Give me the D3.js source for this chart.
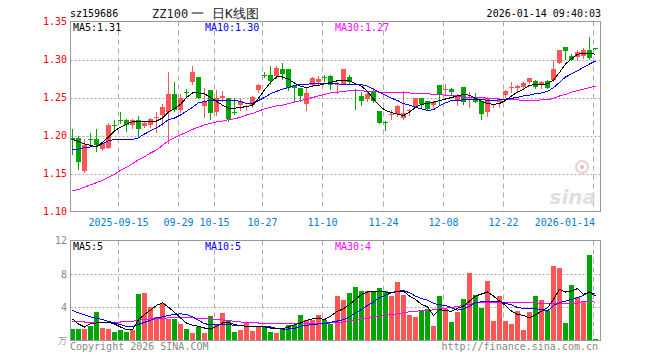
<!DOCTYPE html>
<html>
<head>
<meta charset="utf-8">
<script src="https://cdn.jsdelivr.net/npm/d3@7"></script>
<style>
  body { margin: 0; background: #fff; }
  svg text { font-family: "DejaVu Sans Mono", monospace; font-size: 10px; }
</style>
</head>
<body>
<div id="vis"></div>
<script>
// daily K bars, 88 trading days ending 2026-01-14
var open = [1.197,1.197,1.153,1.196,1.195,1.182,1.184,1.214,1.220,1.221,
  1.214,1.221,1.213,1.214,1.223,1.227,1.231,1.254,1.234,1.257,
  1.270,1.277,1.239,1.260,1.231,1.249,1.249,1.231,1.240,1.238,
  1.240,1.260,1.280,1.279,1.278,1.287,1.287,1.266,1.262,1.242,
  1.266,1.270,1.277,1.278,1.266,1.268,1.277,1.260,1.252,1.248,
  1.259,1.232,1.218,1.227,1.228,1.223,1.233,1.239,1.250,1.245,
  1.240,1.267,1.260,1.261,1.247,1.264,1.250,1.250,1.245,1.231,
  1.240,1.244,1.253,1.263,1.262,1.264,1.270,1.272,1.266,1.272,
  1.273,1.295,1.317,1.304,1.303,1.305,1.312,1.315];
var high = [1.208,1.199,1.195,1.203,1.208,1.192,1.216,1.221,1.231,1.222,
  1.222,1.226,1.219,1.223,1.231,1.242,1.283,1.270,1.255,1.261,
  1.291,1.277,1.262,1.260,1.260,1.259,1.249,1.250,1.250,1.240,
  1.252,1.268,1.284,1.291,1.291,1.295,1.287,1.266,1.262,1.264,
  1.277,1.278,1.279,1.279,1.270,1.287,1.279,1.261,1.257,1.257,
  1.262,1.232,1.219,1.233,1.240,1.259,1.235,1.250,1.250,1.246,
  1.245,1.267,1.268,1.263,1.254,1.264,1.257,1.256,1.245,1.251,
  1.242,1.248,1.260,1.270,1.266,1.270,1.276,1.273,1.272,1.273,
  1.299,1.313,1.317,1.307,1.313,1.315,1.329,1.315];
var low = [1.176,1.156,1.152,1.186,1.180,1.181,1.183,1.208,1.216,1.206,
  1.210,1.200,1.211,1.211,1.205,1.214,1.190,1.232,1.231,1.252,
  1.268,1.250,1.225,1.222,1.227,1.246,1.219,1.228,1.234,1.233,
  1.238,1.257,1.277,1.268,1.276,1.274,1.260,1.246,1.246,1.233,
  1.265,1.268,1.272,1.261,1.256,1.268,1.268,1.235,1.240,1.246,
  1.244,1.216,1.207,1.222,1.226,1.222,1.227,1.238,1.236,1.235,
  1.237,1.242,1.255,1.254,1.240,1.242,1.237,1.244,1.222,1.226,
  1.238,1.238,1.251,1.257,1.257,1.262,1.269,1.262,1.262,1.262,
  1.272,1.295,1.301,1.299,1.300,1.302,1.301,1.314];
var close = [1.194,1.165,1.187,1.195,1.187,1.190,1.214,1.213,1.219,1.214,
  1.221,1.208,1.217,1.222,1.224,1.237,1.254,1.234,1.249,1.256,
  1.284,1.250,1.246,1.230,1.249,1.252,1.222,1.230,1.246,1.239,
  1.251,1.267,1.279,1.272,1.289,1.281,1.263,1.262,1.252,1.256,
  1.276,1.275,1.276,1.266,1.268,1.287,1.270,1.259,1.246,1.255,
  1.246,1.217,1.217,1.228,1.239,1.230,1.234,1.249,1.242,1.235,
  1.244,1.255,1.261,1.257,1.253,1.244,1.251,1.244,1.228,1.249,
  1.241,1.248,1.259,1.264,1.265,1.269,1.276,1.264,1.270,1.263,
  1.288,1.312,1.311,1.300,1.310,1.312,1.302,1.314];

// volume, in 万
var volume = [1.42,1.34,1.42,1.74,3.48,1.54,1.42,1.05,1.30,1.05,
  1.21,5.54,5.66,4.08,2.87,4.45,2.63,2.63,2.02,1.42,
  0.93,1.66,0.93,2.99,2.02,3.36,2.39,1.05,1.30,2.11,
  1.18,1.78,1.62,1.05,0.93,1.38,1.90,1.90,3.12,2.51,
  2.51,3.12,2.51,1.98,5.30,4.81,5.66,6.39,5.90,5.90,
  5.90,6.27,5.90,5.30,6.99,5.42,3.12,2.87,3.52,3.84,
  1.78,5.30,3.84,2.27,3.48,4.93,8.08,5.42,3.96,7.11,
  2.39,5.30,2.39,2.02,3.60,1.30,3.48,5.30,4.81,3.60,
  8.93,8.69,2.15,6.63,5.18,4.69,10.27,0.21];

// price moving averages
var ma5 = [1.195,1.192,1.189,1.187,1.185,1.191,1.198,1.206,1.211,1.215,
  1.218,1.219,1.219,1.219,1.219,1.223,1.231,1.235,1.241,1.250,
  1.256,1.256,1.255,1.250,1.245,1.240,1.236,1.236,1.237,1.238,
  1.240,1.249,1.260,1.270,1.277,1.277,1.274,1.269,1.265,1.263,
  1.265,1.266,1.268,1.270,1.272,1.273,1.272,1.268,1.265,1.258,
  1.248,1.239,1.233,1.230,1.228,1.226,1.231,1.237,1.241,1.242,
  1.244,1.246,1.248,1.250,1.252,1.254,1.253,1.249,1.245,1.242,
  1.241,1.242,1.246,1.252,1.257,1.261,1.266,1.267,1.267,1.268,
  1.273,1.283,1.294,1.301,1.307,1.308,1.308,1.307];
var ma10 = [1.181,1.182,1.184,1.185,1.186,1.189,1.193,1.195,1.195,1.195,
  1.195,1.197,1.202,1.206,1.210,1.215,1.221,1.223,1.227,1.232,
  1.237,1.243,1.245,1.246,1.246,1.246,1.246,1.246,1.245,1.242,
  1.242,1.246,1.250,1.255,1.258,1.261,1.263,1.266,1.267,1.267,
  1.269,1.269,1.269,1.269,1.268,1.267,1.267,1.267,1.267,1.265,
  1.261,1.257,1.253,1.249,1.246,1.242,1.240,1.237,1.235,1.233,
  1.234,1.239,1.243,1.246,1.246,1.247,1.248,1.248,1.248,1.246,
  1.246,1.247,1.248,1.249,1.250,1.252,1.253,1.255,1.256,1.258,
  1.263,1.270,1.277,1.281,1.285,1.290,1.294,1.298];
var ma30 = [1.127,1.129,1.132,1.135,1.138,1.141,1.145,1.149,1.154,1.158,
  1.163,1.168,1.172,1.177,1.181,1.187,1.193,1.197,1.201,1.204,
  1.208,1.211,1.214,1.216,1.218,1.219,1.221,1.222,1.224,1.227,
  1.229,1.232,1.235,1.237,1.239,1.240,1.242,1.244,1.246,1.248,
  1.250,1.252,1.254,1.256,1.257,1.258,1.259,1.259,1.259,1.258,
  1.258,1.257,1.256,1.256,1.256,1.256,1.256,1.255,1.255,1.255,
  1.254,1.254,1.253,1.252,1.252,1.251,1.250,1.250,1.250,1.249,
  1.249,1.248,1.248,1.247,1.247,1.246,1.246,1.246,1.247,1.247,
  1.249,1.252,1.254,1.257,1.259,1.261,1.263,1.265];

// volume moving averages
var vma5 = [2.59,1.98,1.62,2.02,2.10,2.18,2.18,1.98,1.62,1.30,
  1.30,2.51,3.12,3.64,4.21,4.53,4.00,3.39,2.71,2.10,
  1.82,1.70,1.50,1.38,1.70,2.10,2.18,1.90,1.78,1.70,
  1.70,1.66,1.62,1.50,1.38,1.42,1.62,1.90,2.10,2.42,
  2.59,2.71,2.51,2.91,3.52,3.80,4.33,4.93,5.54,5.82,
  5.90,5.94,5.82,5.74,5.86,5.94,5.33,4.93,4.33,4.04,
  3.00,3.72,3.56,3.52,3.88,4.12,4.73,5.33,5.58,5.82,
  5.33,4.73,4.21,3.52,3.12,3.00,2.71,3.08,3.52,3.92,
  4.93,6.15,5.82,5.94,6.23,5.54,5.82,5.33];
var vma10 = [3.60,3.32,3.08,2.83,2.67,2.51,2.30,2.10,1.90,1.70,
  1.62,1.94,2.18,2.42,2.71,2.83,3.00,3.12,3.20,3.12,
  2.83,2.42,2.02,1.90,1.90,1.90,1.90,1.82,1.78,1.70,
  1.70,1.70,1.70,1.62,1.46,1.38,1.38,1.46,1.70,1.82,
  1.90,1.98,2.02,2.18,2.34,2.51,2.83,3.32,3.72,4.21,
  4.61,5.14,5.42,5.74,5.90,5.98,5.74,5.33,5.02,4.85,
  4.45,4.29,4.21,3.92,3.64,3.80,4.12,4.53,4.65,4.73,
  4.73,4.73,4.45,4.29,3.96,3.84,3.80,3.80,3.72,3.52,
  4.21,4.53,4.73,4.93,5.14,5.42,5.82,5.54];
var vma30 = [2.30,2.26,2.22,2.22,2.22,2.22,2.22,2.22,2.22,2.26,
  2.30,2.42,2.51,2.59,2.63,2.67,2.71,2.71,2.71,2.71,
  2.71,2.67,2.63,2.59,2.51,2.46,2.38,2.30,2.22,2.18,
  2.14,2.10,2.10,2.10,2.10,2.10,2.10,2.10,2.10,2.10,
  2.10,2.06,2.06,2.10,2.14,2.22,2.34,2.42,2.55,2.67,
  2.79,2.91,3.04,3.12,3.20,3.32,3.44,3.52,3.56,3.60,
  3.68,3.80,3.88,3.96,4.08,4.21,4.33,4.45,4.57,4.61,
  4.61,4.61,4.61,4.61,4.57,4.53,4.53,4.49,4.45,4.45,
  4.45,4.45,4.45,4.45,4.49,4.69,4.65,4.61];

var tickIdx = [8, 18, 24, 32, 42, 52, 62, 72, 87];
var tickLabels = ["2025-09-15", "09-29", "10-15", "10-27", "11-10", "11-24", "12-08", "12-22", "2026-01-14"];
var priceTicks = [1.35, 1.30, 1.25, 1.20, 1.15, 1.10];
var priceGrid = [1.30, 1.25, 1.20, 1.15];
var volTicks = [12, 8, 4];
var volGrid = [8, 4];

var RED = "#ff5555", GREEN = "#00a600", GRID = "#aaaaaa", FRAME = "#999999";

var svg = d3.select("#vis").append("svg")
  .attr("width", 660)
  .attr("height", 360);

// panel edges
var left = 70.5, right = 600.5;
var pTop = 21.5, pBot = 211.5, vTop = 240.5, vBot = 340.5;

var idx = d3.range(close.length);
var x = d3.scaleBand().domain(idx).range([69, 599]);
var y = d3.scaleLinear().domain([1.10, 1.35]).range([pBot, pTop]);
var yv = d3.scaleLinear().domain([0, 12]).range([vBot, vTop]);

function bodyX(i) { return Math.round(x(i) + x.bandwidth() / 2 - 2.5); }
function mid(i) { return bodyX(i) + 2.5; }
function isUp(i) { return close[i] >= open[i]; }

// header
svg.append("text").attr("x", 70).attr("y", 17).attr("fill", "#000").text("sz159686");
var title = svg.append("g").attr("fill", "#222")
  .style("font-family", "'Noto Sans CJK SC', sans-serif");
title.append("text").attr("x", 152).attr("y", 18).style("font-size", "12px").text("ZZ100");
title.append("text").attr("x", 197).attr("y", 18).attr("text-anchor", "middle").style("font-size", "13px").text("一");
title.append("text").attr("x", 212).attr("y", 18).style("font-size", "13px").text("日K线图");
svg.append("text").attr("x", 601).attr("y", 17).attr("text-anchor", "end").attr("fill", "#000")
  .text("2026-01-14 09:40:03");

// horizontal dotted grid
svg.append("g").selectAll("line").data(priceGrid).enter().append("line")
  .attr("x1", left).attr("x2", right)
  .attr("y1", function(d) { return Math.round(y(d)) + 0.5; })
  .attr("y2", function(d) { return Math.round(y(d)) + 0.5; })
  .attr("stroke", GRID).attr("stroke-dasharray", "2,2");
svg.append("g").selectAll("line").data(volGrid).enter().append("line")
  .attr("x1", left).attr("x2", right)
  .attr("y1", function(d) { return Math.round(yv(d)) + 0.5; })
  .attr("y2", function(d) { return Math.round(yv(d)) + 0.5; })
  .attr("stroke", GRID).attr("stroke-dasharray", "2,2");

// vertical dashed grid at the date ticks, both panels
[[pTop, pBot], [vTop, vBot]].forEach(function(span) {
  svg.append("g").selectAll("line").data(tickIdx).enter().append("line")
    .attr("x1", function(i) { return bodyX(i) + 0.5; })
    .attr("x2", function(i) { return bodyX(i) + 0.5; })
    .attr("y1", span[0]).attr("y2", span[1])
    .attr("stroke", GRID).attr("stroke-dasharray", "5,4");
});

// sina watermark
var wm = svg.append("g").attr("opacity", 0.9);
wm.append("circle").attr("cx", 582).attr("cy", 167).attr("r", 6)
  .attr("fill", "none").attr("stroke", "#f0c8c8").attr("stroke-width", 2);
wm.append("circle").attr("cx", 582).attr("cy", 167).attr("r", 2).attr("fill", "#e8b0b0");
wm.append("text").attr("x", 596).attr("y", 204).attr("text-anchor", "end")
  .style("font-family", "'DejaVu Sans', sans-serif").style("font-size", "20px")
  .style("font-style", "italic").style("font-weight", "bold")
  .attr("fill", "#dcdcdc").text("sina");

// candles
var candle = svg.append("g").selectAll("g").data(idx).enter().append("g");
candle.append("line")
  .attr("x1", mid).attr("x2", mid)
  .attr("y1", function(i) { return Math.round(y(high[i])); })
  .attr("y2", function(i) { return Math.round(y(low[i])) + 1; })
  .attr("stroke", function(i) { return isUp(i) ? RED : GREEN; });
candle.append("rect")
  .attr("x", bodyX)
  .attr("y", function(i) { return Math.round(y(Math.max(open[i], close[i]))); })
  .attr("width", 5)
  .attr("height", function(i) {
    var h = Math.round(y(Math.min(open[i], close[i]))) - Math.round(y(Math.max(open[i], close[i])));
    return Math.max(1, h);
  })
  .attr("fill", function(i) { return isUp(i) ? RED : GREEN; });

// volume bars
svg.append("g").selectAll("rect").data(idx).enter().append("rect")
  .attr("x", bodyX)
  .attr("y", function(i) { return Math.round(yv(volume[i])); })
  .attr("width", 5)
  .attr("height", function(i) { return vBot + 0.5 - Math.round(yv(volume[i])); })
  .attr("fill", function(i) { return isUp(i) ? RED : GREEN; });

// moving average lines
function drawLine(values, scale, color) {
  var line = d3.line()
    .x(function(d, i) { return mid(i); })
    .y(function(d) { return scale(d); });
  svg.append("path").datum(values)
    .attr("d", line)
    .attr("fill", "none")
    .attr("stroke", color)
    .attr("stroke-width", 1)
    .attr("shape-rendering", "crispEdges");
}
drawLine(ma30, y, "#ff00ff");
drawLine(ma10, y, "#0000ff");
drawLine(ma5, y, "#000000");
drawLine(vma30, yv, "#ff00ff");
drawLine(vma10, yv, "#0000ff");
drawLine(vma5, yv, "#000000");

// frames
svg.append("rect").attr("x", left).attr("y", pTop).attr("width", right - left).attr("height", pBot - pTop)
  .attr("fill", "none").attr("stroke", FRAME);
svg.append("rect").attr("x", left).attr("y", vTop).attr("width", right - left).attr("height", vBot - vTop)
  .attr("fill", "none").attr("stroke", FRAME);

// price axis (red)
var pAxis = svg.append("g").attr("transform", "translate(70,0)")
  .call(d3.axisLeft(y).tickValues(priceTicks).tickFormat(d3.format(".2f")).tickSize(0).tickPadding(3));
pAxis.select(".domain").remove();
pAxis.selectAll("text").attr("fill", "#ff0000")
  .style("font-family", "'DejaVu Sans Mono', monospace").style("font-size", "10px");

// volume axis (gray)
var vAxis = svg.append("g").attr("transform", "translate(70,0)")
  .call(d3.axisLeft(yv).tickValues(volTicks).tickFormat(d3.format("d")).tickSize(0).tickPadding(3));
vAxis.select(".domain").remove();
vAxis.selectAll("text").attr("fill", "#888")
  .style("font-family", "'DejaVu Sans Mono', monospace").style("font-size", "10px");
svg.append("text").attr("x", 67).attr("y", 344).attr("text-anchor", "end")
  .style("font-family", "'Noto Sans CJK SC', sans-serif").style("font-size", "9px")
  .attr("fill", "#999").text("万");

// date labels
svg.append("g").selectAll("text").data(tickIdx).enter().append("text")
  .attr("x", function(i, k) {
    var gx = bodyX(i) + 0.5;
    return gx + tickLabels[k].length * 3 > right ? gx + 1.5 : gx;
  })
  .attr("y", 226)
  .attr("text-anchor", function(i, k) {
    return bodyX(i) + 0.5 + tickLabels[k].length * 3 > right ? "end" : "middle";
  })
  .attr("fill", "#0080d0")
  .text(function(i, k) { return tickLabels[k]; });

// legends
function legend(items, yPos) {
  items.forEach(function(it) {
    svg.append("text").attr("x", it[0]).attr("y", yPos).attr("fill", it[2]).text(it[1]);
  });
}
legend([[73, "MA5:1.31", "#000"], [205, "MA10:1.30", "#0000ff"], [335, "MA30:1.27", "#ff00ff"]], 31);
legend([[73, "MA5:5", "#000"], [205, "MA10:5", "#0000ff"], [335, "MA30:4", "#ff00ff"]], 250);

// footer
svg.append("text").attr("x", 70).attr("y", 350).attr("fill", "#888").text("Copyright 2026 SINA.COM");
svg.append("text").attr("x", 598).attr("y", 350).attr("text-anchor", "end").attr("fill", "#888")
  .text("http://finance.sina.com.cn");
</script>
</body>
</html>
